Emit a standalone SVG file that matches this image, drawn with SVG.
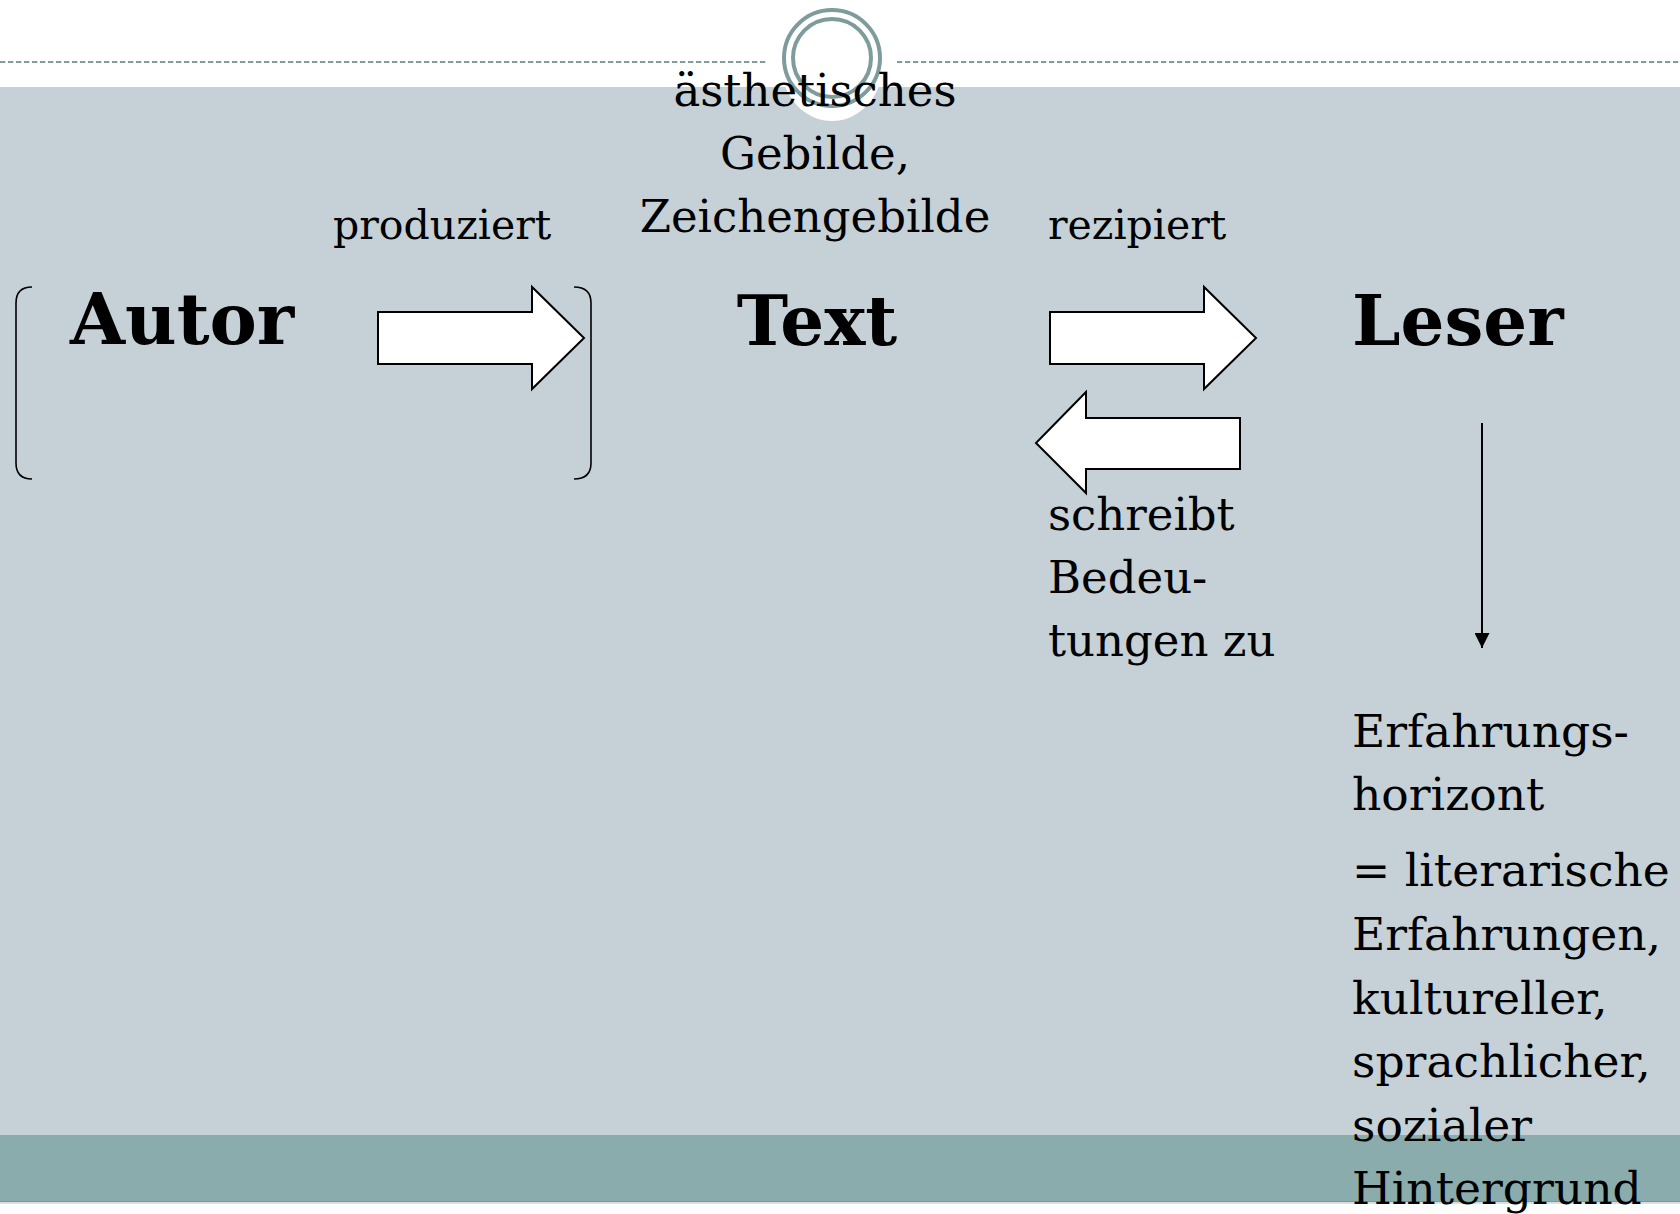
<svg xmlns="http://www.w3.org/2000/svg" width="1680" height="1214" viewBox="0 0 1680 1214">
  <defs>
    <style>
      .t { font-family: "DejaVu Serif", "Liberation Serif", serif; fill: #000; }
      .big { font-size: 69px; font-weight: bold; }
      .lbl { font-size: 41px; }
      .txt { font-size: 45px; }
      .rc { font-size: 45.6px; }
      .blk { fill: #fff; stroke: #000; stroke-width: 2; stroke-linejoin: miter; }
      .ring { fill: none; stroke: #7f9c9c; stroke-width: 4; }
    </style>
    <marker id="ah" viewBox="0 0 10 10" refX="10" refY="5" markerWidth="15" markerHeight="15" markerUnits="userSpaceOnUse" orient="auto">
      <path d="M0,0 L10,5 L0,10 z" fill="#000"/>
    </marker>
  </defs>

  <!-- background -->
  <rect x="0" y="0" width="1680" height="1214" fill="#ffffff"/>
  <rect x="0" y="87" width="1680" height="1048" fill="#c5d1d7"/>
  <rect x="0" y="1135" width="1680" height="66" fill="#8aacad"/>
  <rect x="0" y="1201" width="1680" height="1" fill="#7a9696"/>
  <rect x="0" y="1202" width="1680" height="2" fill="#d5e0e0"/>
  <line x1="0" y1="62" x2="766" y2="62" stroke="#7f9c9c" stroke-width="2" stroke-dasharray="5.3 2.7"/>
  <line x1="897" y1="62" x2="1680" y2="62" stroke="#7f9c9c" stroke-width="2" stroke-dasharray="5.3 2.7"/>
  <ellipse cx="832" cy="64" rx="51" ry="57" fill="#ffffff"/>
  <circle class="ring" cx="832" cy="58" r="48"/>
  <circle class="ring" cx="832" cy="58" r="39"/>

  <!-- connectors -->
  <g id="connectors">
    <path d="M32 287 Q16 287 16 303 L16 463 Q16 479 32 479" fill="none" stroke="#000" stroke-width="1.6"/>
    <path d="M574 287 Q591 287 591 303 L591 463 Q591 479 574 479" fill="none" stroke="#000" stroke-width="1.6"/>
    <path class="blk" d="M378 312 L532 312 L532 287 L584 338 L532 389 L532 364 L378 364 Z"/>
    <path class="blk" d="M1050 312 L1204 312 L1204 287 L1256 338 L1204 389 L1204 364 L1050 364 Z"/>
    <path class="blk" d="M1240 418 L1086 418 L1086 392 L1036 443 L1086 493 L1086 469 L1240 469 Z"/>
    <line x1="1482" y1="423" x2="1482" y2="648" stroke="#000" stroke-width="2" marker-end="url(#ah)"/>
  </g>

  <!-- nodes -->
  <g id="autor">
    <text class="t big" x="70" y="344" style="font-size:71px">Autor</text>
  </g>
  <g id="text">
    <text class="t big" x="817" y="345" text-anchor="middle">Text</text>
  </g>
  <g id="leser">
    <text class="t big" x="1352" y="345">Leser</text>
  </g>
  <g id="gebilde">
    <text class="t txt" x="815" y="106" text-anchor="middle">ästhetisches</text>
    <text class="t txt" x="815" y="169" text-anchor="middle">Gebilde,</text>
    <text class="t txt" x="815" y="232" text-anchor="middle">Zeichengebilde</text>
  </g>
  <g id="produziert">
    <text class="t lbl" x="333" y="239">produziert</text>
  </g>
  <g id="rezipiert">
    <text class="t lbl" x="1048" y="239">rezipiert</text>
  </g>
  <g id="schreibt">
    <text class="t txt" x="1048" y="530">schreibt</text>
    <text class="t txt" x="1048" y="593">Bedeu-</text>
    <text class="t txt" x="1048" y="656">tungen zu</text>
  </g>
  <g id="erfahrungshorizont">
    <text class="t rc" x="1352" y="747">Erfahrungs-</text>
    <text class="t rc" x="1352" y="810">horizont</text>
    <text class="t rc" x="1352" y="886">= literarische</text>
    <text class="t rc" x="1352" y="950">Erfahrungen,</text>
    <text class="t rc" x="1352" y="1014">kultureller,</text>
    <text class="t rc" x="1352" y="1077">sprachlicher,</text>
    <text class="t rc" x="1352" y="1141">sozialer</text>
    <text class="t rc" x="1352" y="1204">Hintergrund</text>
  </g>
</svg>
